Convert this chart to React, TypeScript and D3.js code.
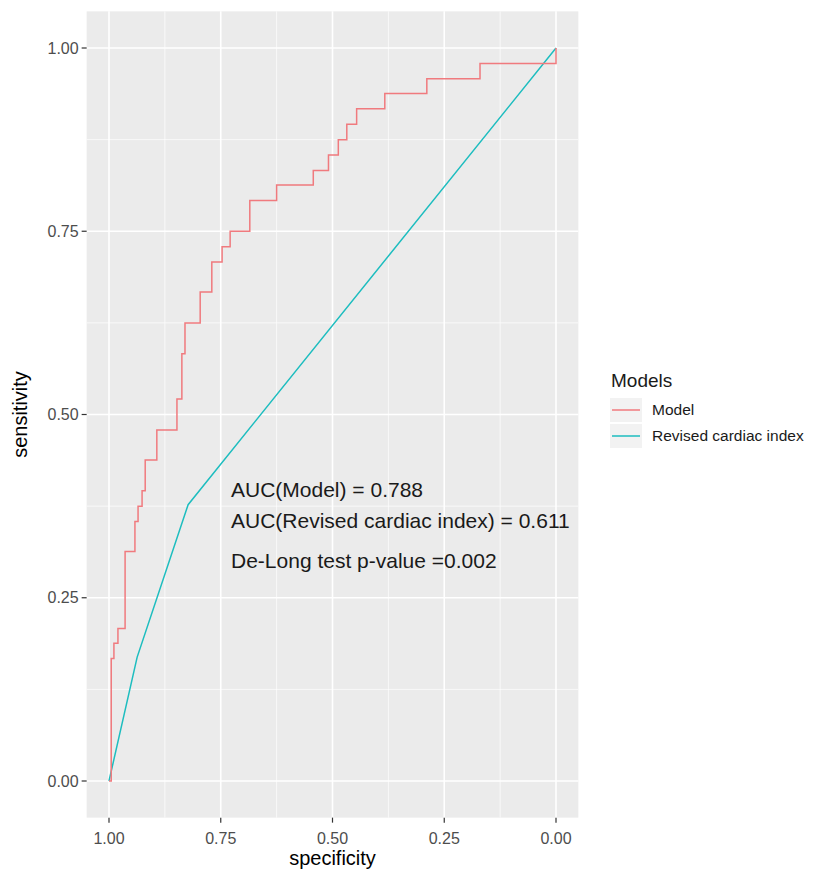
import React from "react";
import * as d3 from "d3";

const modelSpec = [1, 0.995, 0.989, 0.98, 0.964, 0.942, 0.935, 0.926, 0.919, 0.893, 0.848, 0.837, 0.83, 0.796, 0.77, 0.747, 0.729, 0.685, 0.625, 0.543, 0.509, 0.487, 0.468, 0.446, 0.383, 0.289, 0.17, 0, 0];
const modelSens = [0, 0, 0.167, 0.188, 0.208, 0.313, 0.354, 0.375, 0.396, 0.438, 0.479, 0.521, 0.583, 0.625, 0.667, 0.708, 0.729, 0.75, 0.792, 0.813, 0.833, 0.854, 0.875, 0.896, 0.917, 0.938, 0.958, 0.979, 1];
const rciSpec = [1, 0.937, 0.823, 0];
const rciSens = [0, 0.169, 0.377, 1];

const majorTicks = [0, 0.25, 0.5, 0.75, 1];
const minorTicks = [0.125, 0.375, 0.625, 0.875];
const tickLabels = ["0.00", "0.25", "0.50", "0.75", "1.00"];
const seriesNames = ["Model", "Revised cardiac index"];
const seriesColors = ["#F07A7E", "#1DBDBF"];
const annotations = ["AUC(Model) = 0.788", "AUC(Revised cardiac index) = 0.611", "De-Long test p-value =0.002"];

const FONT = "'Liberation Sans', Arial, Helvetica, sans-serif";

export default function App() {
  const x = d3.scaleLinear().domain([1, 0]).range([109, 556]);
  const y = d3.scaleLinear().domain([0, 1]).range([781, 48]);
  const px0 = x(1.05), px1 = x(-0.05), py0 = y(1.05), py1 = y(-0.05);

  const modelPts: [number, number][] = modelSpec.map((s, i) => [s, modelSens[i]]);
  const rciPts: [number, number][] = rciSpec.map((s, i) => [s, rciSens[i]]);
  const stepLine = d3.line<[number, number]>().x(d => x(d[0])).y(d => y(d[1])).curve(d3.curveStepBefore);
  const straight = d3.line<[number, number]>().x(d => x(d[0])).y(d => y(d[1]));

  const legendX = 612;
  const legendY = [410, 436];

  return (
    <svg width={817} height={869} style={{ position: "absolute", left: 0, top: 0, background: "#fff" }} fontFamily={FONT}>
      <rect x={px0} y={py0} width={px1 - px0} height={py1 - py0} fill="#EBEBEB" />
      {minorTicks.map(t => (
        <g key={"mn" + t}>
          <line x1={x(t)} x2={x(t)} y1={py0} y2={py1} stroke="#fff" strokeWidth={0.8} opacity={0.9} />
          <line x1={px0} x2={px1} y1={y(t)} y2={y(t)} stroke="#fff" strokeWidth={0.8} opacity={0.9} />
        </g>
      ))}
      {majorTicks.map(t => (
        <g key={"mj" + t}>
          <line x1={x(t)} x2={x(t)} y1={py0} y2={py1} stroke="#fff" strokeWidth={1.6} />
          <line x1={px0} x2={px1} y1={y(t)} y2={y(t)} stroke="#fff" strokeWidth={1.6} />
        </g>
      ))}
      <path d={straight(rciPts) || ""} fill="none" stroke={seriesColors[1]} strokeWidth={1.5} />
      <path d={stepLine(modelPts) || ""} fill="none" stroke={seriesColors[0]} strokeWidth={1.5} />

      {annotations.map((a, i) => (
        <text key={a} x={231} y={[497, 528, 568][i]} fontSize={21} fill="#1a1a1a">{a}</text>
      ))}

      {majorTicks.map((t, i) => (
        <g key={"yt" + t}>
          <line x1={px0 - 5} x2={px0} y1={y(t)} y2={y(t)} stroke="#333" strokeWidth={1.2} />
          <text x={px0 - 8} y={y(t)} dy="0.35em" textAnchor="end" fontSize={16} fill="#4D4D4D">{tickLabels[i]}</text>
        </g>
      ))}
      {majorTicks.map((t, i) => (
        <g key={"xt" + t}>
          <line x1={x(t)} x2={x(t)} y1={py1} y2={py1 + 5} stroke="#333" strokeWidth={1.2} />
          <text x={x(t)} y={py1 + 21} dy="0.35em" textAnchor="middle" fontSize={16} fill="#4D4D4D">{tickLabels[i]}</text>
        </g>
      ))}
      <text x={(px0 + px1) / 2} y={858} dy="0.35em" textAnchor="middle" fontSize={20} fill="#000">specificity</text>
      <text transform={`translate(20, ${(py0 + py1) / 2}) rotate(-90)`} textAnchor="middle" dy="0.35em" fontSize={20} fill="#000">sensitivity</text>

      <text x={legendX - 1} y={380} dy="0.35em" fontSize={19} fill="#1a1a1a">Models</text>
      {seriesNames.map((n, i) => (
        <g key={n}>
          <rect x={legendX - 2} y={legendY[i] - 12} width={32} height={24} fill="#F2F2F2" />
          <line x1={legendX} x2={legendX + 28} y1={legendY[i]} y2={legendY[i]} stroke={seriesColors[i]} strokeWidth={1.5} />
          <text x={652} y={legendY[i]} dy="0.35em" fontSize={15.5} fill="#1a1a1a">{n}</text>
        </g>
      ))}
    </svg>
  );
}
